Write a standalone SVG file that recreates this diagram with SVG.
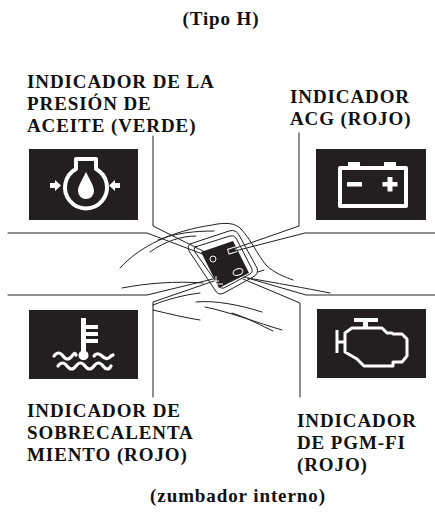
<svg xmlns="http://www.w3.org/2000/svg" width="435" height="517" viewBox="0 0 435 517">
  <style>
    .lbl { font-family: "Liberation Serif", "Times New Roman", serif; font-weight: bold; font-size: 19px; letter-spacing: 0.9px; fill: #111; }
    .box { fill: #231f20; }
    .ln { fill: none; stroke: #231f20; stroke-width: 1; stroke-linejoin: round; stroke-linecap: round; }
    .ico { fill: none; stroke: #fff; stroke-linejoin: round; }
    .icof { fill: #fff; }
  </style>
  <rect width="435" height="517" fill="#fff"/>

  <text class="lbl" x="221" y="25" text-anchor="middle">(Tipo H)</text>

  <!-- handlebar / fairing sketch around the indicator panel -->
  <g id="panel">
    <path class="ln" d="M120,268 C140,246 172,231 212,225 C226,222 236,223 241,229"/>
    <path class="ln" d="M150,252 C165,241 182,236 196,236"/>
    <path class="ln" d="M158,240 C175,233 195,231 214,231"/>
    <path class="ln" d="M122,288 C148,283 176,281 203,283"/>
    <path class="ln" d="M241,229 C252,241 257,254 266,265 C274,273 285,277 293,280"/>
    <path class="ln" d="M258,272 L264,270"/>
    <path class="ln" d="M248,278 C276,283 305,288 330,293"/>
    <path class="ln" d="M196,302 C215,300 240,305 262,312"/>
    <path class="ln" d="M205,307 C230,312 258,323 282,330"/>
    <path class="ln" d="M232,313 C248,318 262,326 273,331"/>
    <path class="ln" d="M153,310 C170,314 186,318 200,320"/>
    <path class="ln" d="M153,305 C168,299 184,295 200,293"/>
    <!-- bezel -->
    <path class="ln" d="M190,244 L229,231 Q236,229 239,235 L257,268 Q259,274 253,277 L224,293 Q218,296 215,290 L189,251 Q187,246 190,244 Z"/>
    <path class="ln" d="M195,247 L230,236 Q234,235 236,238 L252,269 Q253,272 250,274 L224,288 Q221,289 219,286 L195,252 Q193,249 195,247 Z"/>
    <!-- display -->
    <polygon points="201,252 233,241 249,273 219,288" fill="#231f20"/>
    <!-- tiny lamps on the display -->
    <circle cx="213" cy="259" r="3" fill="none" stroke="#fff" stroke-width="1"/>
    <rect x="228" y="248" width="8" height="5" fill="none" stroke="#fff" stroke-width="1" transform="rotate(-18 232 250)"/>
    <path d="M216,276 V283 M213,284 H223 M214,281 H219" stroke="#fff" stroke-width="1" fill="none"/>
    <ellipse cx="238" cy="272" rx="5" ry="3.2" fill="none" stroke="#fff" stroke-width="1" transform="rotate(-18 238 272)"/>
  </g>

  <!-- callout leaders -->
  <g id="connectors">
    <polyline class="ln" points="8,233 147,233 205,255"/>
    <polyline class="ln" points="153,136 153,226 207,253"/>
    <polyline class="ln" points="299,133 299,226 233,249"/>
    <polyline class="ln" points="435,233 305,233 235,251"/>
    <polyline class="ln" points="8,295 147,295 213,279"/>
    <polyline class="ln" points="153,397 153,302 214,281"/>
    <polyline class="ln" points="435,295 306,295 244,277"/>
    <polyline class="ln" points="300,397 300,303 243,279"/>
  </g>

  <!-- oil pressure lamp -->
  <g id="oil">
    <text class="lbl"><tspan x="27" y="88">INDICADOR DE LA</tspan><tspan x="27" dy="22">PRESIÓN DE</tspan><tspan x="27" dy="22">ACEITE (VERDE)</tspan></text>
    <rect class="box" x="29" y="149" width="109" height="71"/>
    <path class="ico" stroke-width="4" d="M76,169 V159 H96 V169 A21,21 0 1 1 76,169 Z"/>
    <path class="icof" d="M86,172 C82,180 78,186 78,191 A8,8 0 0 0 94,191 C94,186 90,180 86,172 Z"/>
    <path class="icof" d="M50,183 H55 V180 L61,185.5 L55,191 V188 H50 Z"/>
    <path class="icof" d="M120,183 H115 V180 L109,185.5 L115,191 V188 H120 Z"/>
  </g>

  <!-- charging (ACG) lamp -->
  <g id="acg">
    <text class="lbl"><tspan x="290" y="103">INDICADOR</tspan><tspan x="290" dy="22">ACG (ROJO)</tspan></text>
    <rect class="box" x="316" y="149" width="110" height="71"/>
    <rect class="ico" stroke-width="4" x="340" y="168" width="66" height="38"/>
    <rect class="icof" x="348" y="162" width="12" height="5"/>
    <rect class="icof" x="384" y="162" width="12" height="5"/>
    <rect class="icof" x="347" y="182" width="15" height="4.5"/>
    <path class="icof" d="M387.5,177 H392.5 V182 H397.5 V186.5 H392.5 V191.5 H387.5 V186.5 H382.5 V182 H387.5 Z"/>
  </g>

  <!-- coolant temperature lamp -->
  <g id="temp">
    <text class="lbl"><tspan x="27" y="417">INDICADOR DE</tspan><tspan x="27" dy="22">SOBRECALENTA</tspan><tspan x="27" dy="22">MIENTO (ROJO)</tspan></text>
    <rect class="box" x="29" y="310" width="109" height="69"/>
    <path class="icof" d="M81,318 H86 V325 H98 V329 H86 V332 H98 V336 H86 V339 H98 V343 H86 V351 A5,5 0 1 1 81,351 Z"/>
    <path class="ico" stroke-width="3.2" stroke-linecap="round" d="M54,356 C57,352 60,352 63,356 S69,360 72,356 S75,353 76,355"/>
    <path class="ico" stroke-width="3.2" stroke-linecap="round" d="M94,356 C96,353 99,353 102,356 S108,360 111,356 L113,355"/>
    <path class="ico" stroke-width="3.2" stroke-linecap="round" d="M58,366 C61,362 64,362 67,366 S73,370 76,366 S82,362 85,366 S91,370 94,366 S100,362 103,366 S109,370 111,366"/>
  </g>

  <!-- PGM-FI lamp -->
  <g id="pgmfi">
    <text class="lbl"><tspan x="297" y="427">INDICADOR</tspan><tspan x="297" dy="22">DE PGM-FI</tspan><tspan x="297" dy="22">(ROJO)</tspan></text>
    <rect class="box" x="317" y="309" width="109" height="69"/>
    <rect class="icof" x="354" y="318" width="24" height="4"/>
    <rect class="icof" x="363" y="321" width="5" height="7"/>
    <path class="ico" stroke-width="3" d="M352,328 H382 L387,333 H392 L393,334 H402 L407,339 V356 L402,362 H393 V366 H364 L357,359 L345,352 V333 Z"/>
    <path class="ico" stroke-width="3" d="M337,330 V353 M337,342 H345"/>
  </g>

  <text class="lbl" x="238" y="502" text-anchor="middle">(zumbador interno)</text>
</svg>
